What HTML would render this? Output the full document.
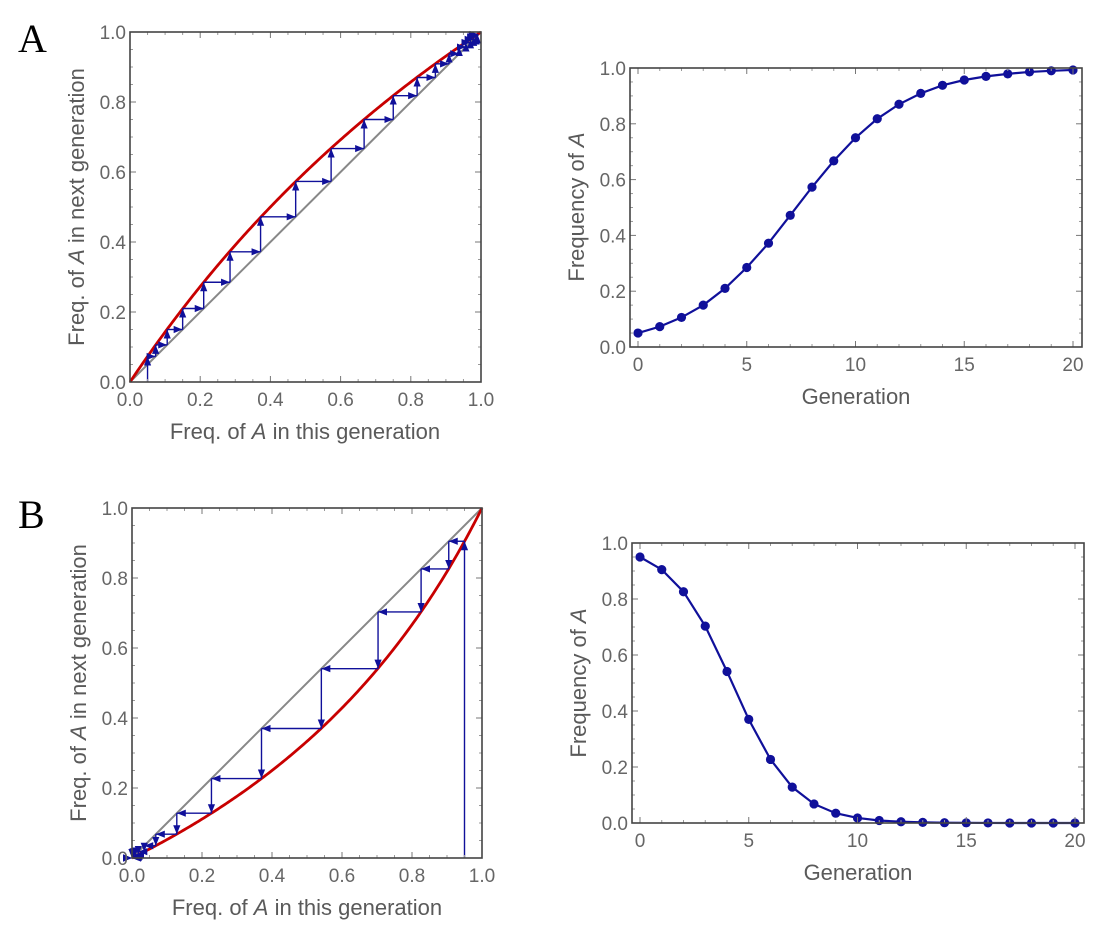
<!DOCTYPE html>
<html><head><meta charset="utf-8">
<style>
html,body{margin:0;padding:0;background:#fff;}
svg{display:block;font-family:"Liberation Sans",sans-serif;}
</style></head>
<body>
<svg id="fig" width="1102" height="944" viewBox="0 0 1102 944">
<defs>
<marker id="arr" viewBox="0 0 10 10" refX="10" refY="5" markerWidth="9" markerHeight="9" markerUnits="userSpaceOnUse" orient="auto">
<path d="M0,1 L10,5 L0,9 Z" fill="#10109a"/>
</marker>
</defs>
<text x="18" y="52" font-family="Liberation Serif,serif" font-size="40" fill="#000">A</text>
<text x="18" y="528" font-family="Liberation Serif,serif" font-size="40" fill="#000">B</text>
</svg>
<script>
// ---- data ----
const genA = [0,1,2,3,4,5,6,7,8,9,10,11,12,13,14,15,16,17,18,19,20];
const freqA = [0.05,0.073,0.106,0.15,0.21,0.285,0.372,0.472,0.573,0.667,0.75,0.818,0.87,0.909,0.938,0.957,0.97,0.979,0.986,0.99,0.993];
const genB = [0,1,2,3,4,5,6,7,8,9,10,11,12,13,14,15,16,17,18,19,20];
const freqB = [0.95,0.905,0.826,0.703,0.541,0.37,0.227,0.128,0.068,0.035,0.018,0.009,0.0045,0.0023,0.0011,0.0006,0.0003,0.0001,0.0001,0,0];
const fitnessRatioA = [1.5];
const fitnessRatioB = [0.5];
const unitTicks = [0,0.2,0.4,0.6,0.8,1.0];
const unitTickLabels = ["0.0","0.2","0.4","0.6","0.8","1.0"];
const genTicks = [0,5,10,15,20];
const genTickLabels = ["0","5","10","15","20"];

const NS = "http://www.w3.org/2000/svg";
const svg = document.getElementById('fig');
function mk(tag, attrs, parent){
  const e = document.createElementNS(NS, tag);
  for (const k in attrs) e.setAttribute(k, attrs[k]);
  (parent||svg).appendChild(e);
  return e;
}
const BLUE="#10109a", GRAY="#666";

function frame(g, L, T, R, B, xs, ys, xMaj, xLab, yMaj, yLab, xMin, yMin){
  xMin.forEach(v=>{
    const x=xs(v);
    const t1=mk('line',{x1:x,y1:B,x2:x,y2:B-3,stroke:'#999','stroke-width':1},g);
    
    
    const t2=mk('line',{x1:x,y1:T,x2:x,y2:T+3,stroke:'#999','stroke-width':1},g);
    
    
  });
  yMin.forEach(v=>{
    const y=ys(v);
    const t1=mk('line',{x1:L,y1:y,x2:L+3,y2:y,stroke:'#999','stroke-width':1},g);
    
    
    const t2=mk('line',{x1:R,y1:y,x2:R-3,y2:y,stroke:'#999','stroke-width':1},g);
    
    
  });
  xMaj.forEach((v,i)=>{
    const x=xs(v);
    const t=mk('line',{x1:x,y1:B,x2:x,y2:B-6,stroke:'#777','stroke-width':1},g);
    
    
    const t2=mk('line',{x1:x,y1:T,x2:x,y2:T+6,stroke:'#777','stroke-width':1},g);
    
    
    const lb=mk('text',{x:x,y:B+24,'text-anchor':'middle','font-size':19,fill:GRAY},g);
    lb.textContent=xLab[i];
    
    
  });
  yMaj.forEach((v,i)=>{
    const y=ys(v);
    const t=mk('line',{x1:L,y1:y,x2:L+6,y2:y,stroke:'#777','stroke-width':1},g);
    
    
    const t2=mk('line',{x1:R,y1:y,x2:R-6,y2:y,stroke:'#777','stroke-width':1},g);
    
    
    const lb=mk('text',{x:L-4,y:y+7,'text-anchor':'end','font-size':19,fill:GRAY},g);
    lb.textContent=yLab[i];
    
    
  });
  const box=mk('rect',{x:L,y:T,width:R-L,height:B-T,fill:'none',stroke:'#444','stroke-width':1.6},g);
  
  
}
function titles(g, xT, xx, xy, yx, yy, yText){
  const xt=mk('text',{x:xx,y:xy,'text-anchor':'middle','font-size':22,fill:'#5a5a5a'},g);
  xt.innerHTML=xT;
  
  
  const yt=mk('text',{x:0,y:0,'text-anchor':'middle','font-size':22,fill:'#5a5a5a',transform:`translate(${yx},${yy}) rotate(-90)`},g);
  yt.innerHTML=yText;
  
  
}
const minorUnit=[]; for(let i=1;i<20;i++){ if(i%4) minorUnit.push(i*0.05); }
const minorGen=[]; for(let i=1;i<20;i++){ if(i%5) minorGen.push(i); }
const minorY=[]; for(let i=1;i<20;i++){ if(i%4) minorY.push(i*0.05); }

function cobweb(name, L,T,R,B, ratio, data){
  const g=mk('g',{});
  
  
  const xs=v=>L+v*(R-L), ys=v=>B-v*(B-T);
  const diag=mk('line',{x1:xs(0),y1:ys(0),x2:xs(1),y2:ys(1),stroke:'#888','stroke-width':2},g);
  
  
  let d='';
  for(let i=0;i<=200;i++){const p=i/200;const q=p*ratio/(p*ratio+(1-p));d+=(i?'L':'M')+xs(p).toFixed(2)+','+ys(q).toFixed(2);}
  const curve=mk('path',{d:d,fill:'none',stroke:'#c80000','stroke-width':2.8},g);
  
  
  for(let i=0;i<data.length-1;i++){
    const p=data[i], q=data[i+1];
    const v=mk('line',{x1:xs(p),y1:ys(i===0?0:p),x2:xs(p),y2:ys(q),stroke:BLUE,'stroke-width':1.4,'marker-end':'url(#arr)'},g);
    
    
    const h=mk('line',{x1:xs(p),y1:ys(q),x2:xs(q),y2:ys(q),stroke:BLUE,'stroke-width':1.4,'marker-end':'url(#arr)'},g);
    
    
  }
  frame(g,L,T,R,B,xs,ys,unitTicks,unitTickLabels,unitTicks,unitTickLabels,minorUnit,minorUnit);
  return g;
}
function series(name, L,T,R,B, x0px, x20px, gens, vals){
  const g=mk('g',{});
  
  
  const xs=v=>x0px+v/20*(x20px-x0px), ys=v=>B-v*(B-T);
  let d='';
  gens.forEach((gv,i)=>{d+=(i?'L':'M')+xs(gv).toFixed(2)+','+ys(vals[i]).toFixed(2);});
  const line=mk('path',{d:d,fill:'none',stroke:BLUE,'stroke-width':2.2},g);
  
  
  gens.forEach((gv,i)=>{
    const c=mk('circle',{cx:xs(gv),cy:ys(vals[i]),r:4.6,fill:BLUE},g);
    
    
  });
  frame(g,L,T,R,B,xs,ys,genTicks,genTickLabels,unitTicks,unitTickLabels,minorGen,minorY);
  return g;
}
const gA1=cobweb('cobweb-plot-a',130,32,481,382,fitnessRatioA[0],freqA);
titles(gA1,'Freq. of <tspan font-style="italic">A</tspan> in this generation',305,439,84,207,'Freq. of <tspan font-style="italic">A</tspan> in next generation');
const gA2=series('time-series-a',630,68,1082,347,638,1073,genA,freqA);
titles(gA2,'Generation',856,404,584,207,'Frequency of <tspan font-style="italic">A</tspan>');
const gB1=cobweb('cobweb-plot-b',132,508,482,858,fitnessRatioB[0],freqB);
titles(gB1,'Freq. of <tspan font-style="italic">A</tspan> in this generation',307,915,86,683,'Freq. of <tspan font-style="italic">A</tspan> in next generation');
const gB2=series('time-series-b',632,543,1084,823,640,1075,genB,freqB);
titles(gB2,'Generation',858,880,586,683,'Frequency of <tspan font-style="italic">A</tspan>');
</script>
</body></html>
